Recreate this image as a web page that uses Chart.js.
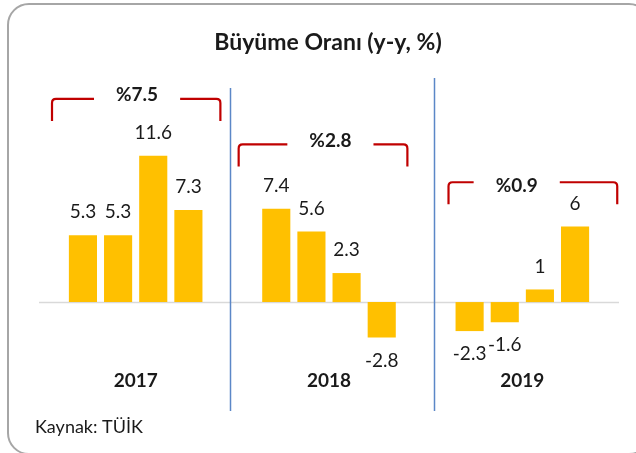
<!DOCTYPE html>
<html>
<head>
<meta charset="utf-8">
<script src="https://cdn.jsdelivr.net/npm/chart.js@4"></script>
<style>
  body { margin: 0; background: #fff; }
  .cerceve {
    position: absolute; left: 7px; top: 3px; width: 640px; height: 448px;
    border: 2px solid #a6a6a6; border-radius: 22px;
  }
  .kutu { position: absolute; left: 0; top: 0; width: 636px; height: 453px; }
</style>
</head>
<body>
<div class="cerceve"></div>
<div class="kutu"><canvas id="grafico" width="636" height="453"></canvas></div>
<script>

// Dati del grafico
const yillar = ['2017', '2018', '2019'];
const ceyrekler = ['Ç1', 'Ç2', 'Ç3', 'Ç4'];
const buyume2017 = [5.3, 5.3, 11.6, 7.3];
const buyume2018 = [7.4, 5.6, 2.3, -2.8];
const buyume2019 = [-2.3, -1.6, 1, 6];
const yillikBuyume = ['%7.5', '%2.8', '%0.9'];

const gruplar = [buyume2017, buyume2018, buyume2019];
const GRUP_ADIMI = 5.5;   // quarters + gap between years, in x units

const noktalar = [];
gruplar.forEach(function (g, i) {
    g.forEach(function (v, q) {
        noktalar.push({ x: i * GRUP_ADIMI + q, y: v });
    });
});

const fontAile = 'Lato, "Open Sans", sans-serif';

// bracket decorations (x in axis units, top as value, text nudge in px)
const parantezler = [
    { sol: -0.88, sag: 3.91, ust: 16.1, yazi: 1.54, dy: -4 },
    { sol: 4.43, sag: 9.23, ust: 12.5, yazi: 7.04, dy: -4 },
    { sol: 10.4, sag: 15.2, ust: 9.5, yazi: 12.34, dy: 4 }
];
const ayiricilar = [
    { x: 4.19, ust: 88 },
    { x: 9.98, ust: 78 }
];

const ciz = {
    id: 'ciz',
    beforeDatasetsDraw(chart) {
        const ctx = chart.ctx;
        const ys = chart.scales.y;
        const a = chart.chartArea;
        const y0 = Math.round(ys.getPixelForValue(0)) + 0.5;
        ctx.save();
        ctx.strokeStyle = '#d9d9d9';
        ctx.lineWidth = 1.5;
        ctx.beginPath();
        ctx.moveTo(a.left, y0);
        ctx.lineTo(a.right, y0);
        ctx.stroke();
        ctx.restore();
    },
    afterDatasetsDraw(chart) {
        const ctx = chart.ctx;
        const xs = chart.scales.x, ys = chart.scales.y;
        ctx.save();

        // ayirici cizgiler
        ctx.strokeStyle = '#5b87c7';
        ctx.lineWidth = 1.5;
        ayiricilar.forEach(function (d) {
            const px = Math.round(xs.getPixelForValue(d.x)) + 0.5;
            ctx.beginPath();
            ctx.moveTo(px, d.ust);
            ctx.lineTo(px, 411);
            ctx.stroke();
        });

        // etiketler
        ctx.fillStyle = '#1a1a1a';
        ctx.font = '19px ' + fontAile;
        ctx.textAlign = 'center';
        ctx.textBaseline = 'middle';
        const meta = chart.getDatasetMeta(0);
        meta.data.forEach(function (bar, i) {
            const v = noktalar[i].y;
            const ty = v >= 0 ? bar.y - 23 : bar.y + 23;
            ctx.fillText(String(v), bar.x, ty);
        });

        // parantezler
        ctx.strokeStyle = '#c00000';
        ctx.lineWidth = 2.2;
        ctx.lineJoin = 'round';
        ctx.font = 'bold 19px ' + fontAile;
        parantezler.forEach(function (p, i) {
            const l = xs.getPixelForValue(p.sol);
            const r = xs.getPixelForValue(p.sag);
            const t = ys.getPixelForValue(p.ust);
            const tx = xs.getPixelForValue(p.yazi);
            const w = ctx.measureText(yillikBuyume[i]).width;
            const bosluk = w / 2 + 22;
            const b = t + 22, rad = 4;
            ctx.beginPath();
            ctx.moveTo(l, b);
            ctx.lineTo(l, t + rad);
            ctx.quadraticCurveTo(l, t, l + rad, t);
            ctx.lineTo(tx - bosluk, t);
            ctx.moveTo(tx + bosluk, t);
            ctx.lineTo(r - rad, t);
            ctx.quadraticCurveTo(r, t, r, t + rad);
            ctx.lineTo(r, b);
            ctx.stroke();
            ctx.fillStyle = '#1a1a1a';
            ctx.fillText(yillikBuyume[i], tx, t + p.dy);
        });

        // yillar
        ctx.font = 'bold 19px ' + fontAile;
        yillar.forEach(function (y, i) {
            ctx.fillText(y, xs.getPixelForValue(i * GRUP_ADIMI + 1.5), 381);
        });

        // baslik ve kaynak
        ctx.font = 'bold 23px ' + fontAile;
        ctx.fillText('Büyüme Oranı (y-y, %)', 328, 43);
        ctx.font = '18px ' + fontAile;
        ctx.textAlign = 'left';
        ctx.fillText('Kaynak: TÜİK', 35, 427);
        ctx.restore();
    }
};

const ctx = document.getElementById('grafico').getContext('2d');
const grafik = new Chart(ctx, {
    type: 'bar',
    data: {
        datasets: [{
            label: 'Büyüme Oranı',
            data: noktalar,
            backgroundColor: '#ffc000',
            barPercentage: 0.8,
            categoryPercentage: 1
        }]
    },
    options: {
        responsive: false,
        animation: false,
        layout: { padding: { left: 39, right: 17, top: 75, bottom: 50 } },
        plugins: { legend: { display: false }, tooltip: { enabled: false } },
        scales: {
            x: { type: 'linear', min: -1.25, max: 15.25, offset: false, display: false },
            y: { min: -8, max: 18, display: false }
        }
    },
    plugins: [ciz]
});
</script>
</body>
</html>
